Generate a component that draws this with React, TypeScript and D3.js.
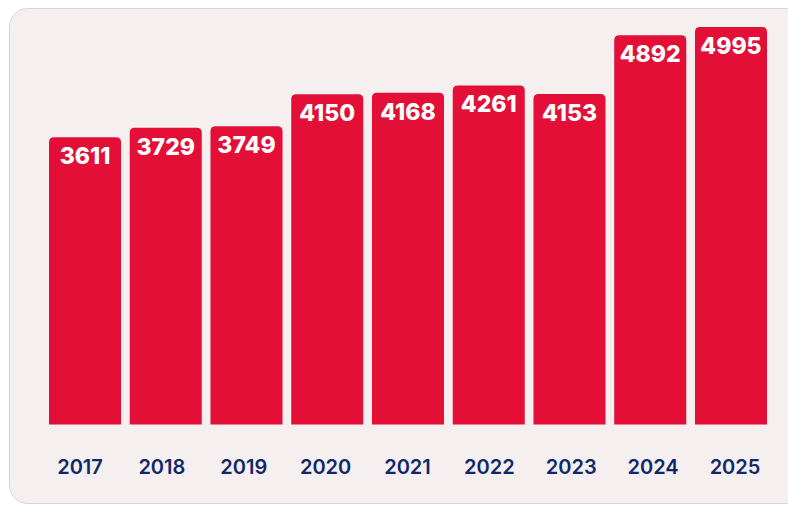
import * as d3 from "d3";
import { useEffect, useRef } from "react";

const years = ["2017", "2018", "2019", "2020", "2021", "2022", "2023", "2024", "2025"];
const values = [3611, 3729, 3749, 4150, 4168, 4261, 4153, 4892, 4995];

const W = 788;
const H = 505;

// path for a bar with rounded top corners only
function topRounded(x: number, y: number, w: number, h: number, r: number) {
  return `M${x},${y + h}V${y + r}Q${x},${y} ${x + r},${y}H${x + w - r}Q${x + w},${y} ${x + w},${y + r}V${y + h}Z`;
}

export default function App() {
  const svgRef = useRef<SVGSVGElement>(null);

  useEffect(() => {
    const svg = d3.select(svgRef.current);
    svg.selectAll("*").remove();

    // card background
    svg.append("rect")
      .attr("x", 9.5)
      .attr("y", 8.5)
      .attr("width", 820)
      .attr("height", 495)
      .attr("rx", 18)
      .attr("fill", "#f5eff0")
      .attr("stroke", "#d9d6d7");

    const x = d3.scaleBand<string>()
      .domain(years)
      .range([49, 767])
      .paddingInner(0.108)
      .paddingOuter(0);

    // year labels sit on their own, slightly wider spacing
    const xLab = d3.scalePoint<string>()
      .domain(years)
      .range([80, 735]);

    const y = d3.scaleLinear()
      .domain([0, d3.max(values) as number])
      .range([424.5, 27]);

    const data = years.map((yr, i) => ({ year: yr, value: values[i] }));

    svg.selectAll(".bar")
      .data(data)
      .enter()
      .append("path")
      .attr("class", "bar")
      .attr("d", d => topRounded(x(d.year)!, y(d.value), x.bandwidth(), y(0) - y(d.value), 5))
      .attr("fill", "#e30f37");

    svg.selectAll(".val")
      .data(data)
      .enter()
      .append("text")
      .attr("class", "val")
      .attr("x", d => x(d.year)! + x.bandwidth() / 2)
      .attr("y", d => y(d.value) + 27)
      .attr("text-anchor", "middle")
      .attr("fill", "#ffffff")
      .attr("font-family", "Inter, 'Open Sans', sans-serif")
      .attr("font-weight", 800)
      .attr("font-size", 23)
      .text(d => d.value);

    svg.selectAll(".yr")
      .data(data)
      .enter()
      .append("text")
      .attr("class", "yr")
      .attr("x", d => xLab(d.year)!)
      .attr("y", 474)
      .attr("text-anchor", "middle")
      .attr("fill", "#10276a")
      .attr("font-family", "Inter, 'Open Sans', sans-serif")
      .attr("font-weight", 600)
      .attr("font-size", 20)
      .text(d => d.year);
  }, []);

  return (
    <div style={{ position: "absolute", left: 0, top: 0 }}>
      <svg ref={svgRef} width={W} height={H} style={{ display: "block", background: "#ffffff" }}></svg>
    </div>
  );
}
